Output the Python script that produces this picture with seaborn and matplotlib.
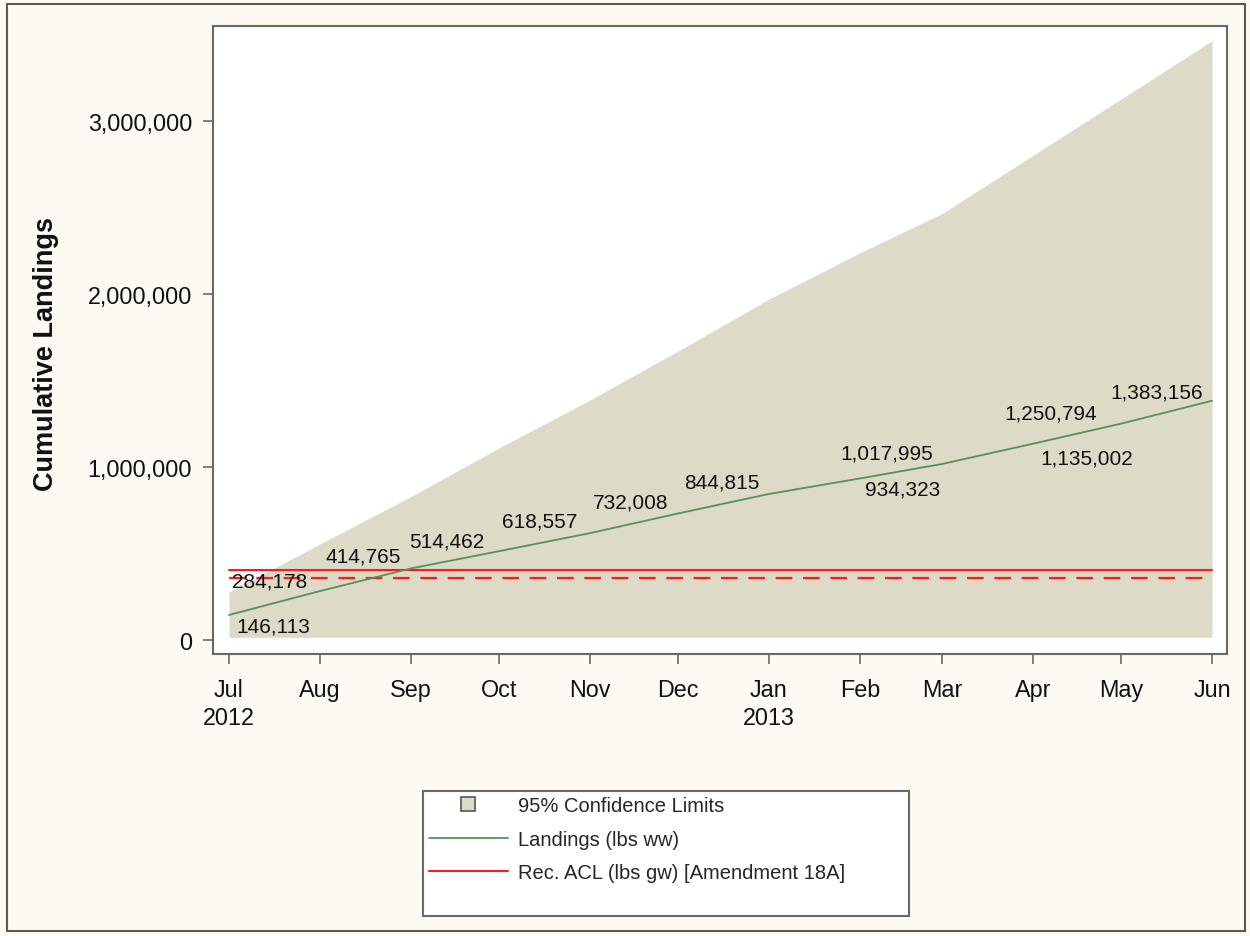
import matplotlib
matplotlib.use("Agg")
import matplotlib.pyplot as plt
import matplotlib.patches as mpatches
from matplotlib.lines import Line2D
import matplotlib.ticker as mticker
import pandas as pd
import seaborn as sns

# Monthly cumulative landings, July 2012 - June 2013
months = ["2012-07-01", "2012-08-01", "2012-09-01", "2012-10-01", "2012-11-01", "2012-12-01",
          "2013-01-01", "2013-02-01", "2013-03-01", "2013-04-01", "2013-05-01", "2013-06-01"]
month_labels = ["Jul\n2012", "Aug", "Sep", "Oct", "Nov", "Dec",
                "Jan\n2013", "Feb", "Mar", "Apr", "May", "Jun"]
landings = [146113, 284178, 414765, 514462, 618557, 732008,
            844815, 934323, 1017995, 1135002, 1250794, 1383156]
ci_lower = [17000, 17000, 17000, 17000, 17000, 17000,
            17000, 17000, 17000, 17000, 17000, 17000]
ci_upper = [279000, 556000, 830000, 1110000, 1387000, 1670000,
            1970000, 2237000, 2464000, 2800000, 3125000, 3462000]
rec_acl = 406000
rec_act = 361000
y_ticks = [0, 1000000, 2000000, 3000000]

# label placement around each point, in pixels (dx, dy)
label_offsets = [(44, -11), (-50, 10), (-48, 12), (-52, 10), (-50, 12), (-47, 12),
                 (-47, 12), (43, -11), (-55, 11), (54, -14), (-70, 11), (-55, 9)]

sns.set_style("ticks")
plt.rcParams["font.family"] = ["Liberation Sans", "DejaVu Sans"]

BAND = "#DDDAC7"
GREEN = "#53925E"
RED = "#FF1A1A"
FRAME = "#6A6A62"
BG = "#FDFAF3"

df = pd.DataFrame({
    "month": pd.to_datetime(months),
    "landings": landings,
    "lower": ci_lower,
    "upper": ci_upper,
})

fig = plt.figure(figsize=(12.5, 9.37), dpi=100)
fig.patch.set_facecolor(BG)
ax = fig.add_axes([0.1704, 0.3010, 0.8112, 0.6702])
ax.set_facecolor("white")

ax.fill_between(df["month"], df["lower"], df["upper"], color=BAND, lw=0, zorder=1)
ax.plot([df["month"].iloc[0], df["month"].iloc[-1]], [rec_acl, rec_acl],
        color=RED, lw=1.5, zorder=2)
ax.plot([df["month"].iloc[0], df["month"].iloc[-1]], [rec_act, rec_act],
        color=RED, lw=1.6, dashes=(7.5, 4.8), zorder=2)
sns.lineplot(data=df, x="month", y="landings", ax=ax, color=GREEN, lw=1.3, zorder=3)

for (m, v), (dx, dy) in zip(zip(df["month"], df["landings"]), label_offsets):
    ax.annotate(f"{v:,}", (m, v), xytext=(dx, dy), textcoords="offset pixels",
                ha="center", va="center", fontsize=15, color="#111111", zorder=4)

x0 = df["month"].iloc[0] - pd.Timedelta(days=5.45)
x1 = df["month"].iloc[-1] + pd.Timedelta(days=5.1)
ax.set_xlim(x0, x1)
ax.set_ylim(-79000, 3547000)

ax.set_xticks(df["month"])
ax.set_xticklabels(month_labels, linespacing=1.25)
ax.set_yticks(y_ticks)
ax.yaxis.set_major_formatter(mticker.StrMethodFormatter("{x:,.0f}"))
ax.tick_params(axis="both", length=7.5, width=1.2, color=FRAME, labelsize=16.8,
               labelcolor="#111111")
ax.tick_params(axis="x", pad=10)
ax.tick_params(axis="y", pad=7.5)
for s in ax.spines.values():
    s.set_visible(True)
    s.set_color(FRAME)
    s.set_linewidth(1.5)

ax.set_xlabel("")
ax.set_ylabel("Cumulative Landings", fontsize=19.5, fontweight="bold", color="#111111")
ax.yaxis.set_label_coords(-0.152, 0.48)

# legend frame
fig.add_artist(mpatches.Rectangle((0.3384, 0.02134), 0.3888, 0.1334, transform=fig.transFigure,
                                  facecolor="white", edgecolor=FRAME, lw=1.5, zorder=0))
handles = [
    Line2D([], [], marker="s", ls="none", markersize=10, markerfacecolor=BAND,
           markeredgecolor="#555555", markeredgewidth=1.2),
    Line2D([], [], color=GREEN, lw=1.3),
    Line2D([], [], color=RED, lw=1.5),
]
labels = ["95% Confidence Limits", "Landings (lbs ww)", "Rec. ACL (lbs gw) [Amendment 18A]"]
fig.legend(handles, labels, loc="upper left", bbox_to_anchor=(0.3432, 0.149),
           bbox_transform=fig.transFigure, frameon=False, fontsize=14.5,
           handlelength=3.9, handletextpad=0.5, labelspacing=0.72, borderpad=0,
           borderaxespad=0, numpoints=1)

# outer frame
fig.add_artist(mpatches.Rectangle((0.0056, 0.0053), 0.9904, 0.9894, transform=fig.transFigure,
                                  facecolor="none", edgecolor="#5A5A52", lw=1.5))

fig.savefig("out.png", dpi=100, facecolor=BG)
